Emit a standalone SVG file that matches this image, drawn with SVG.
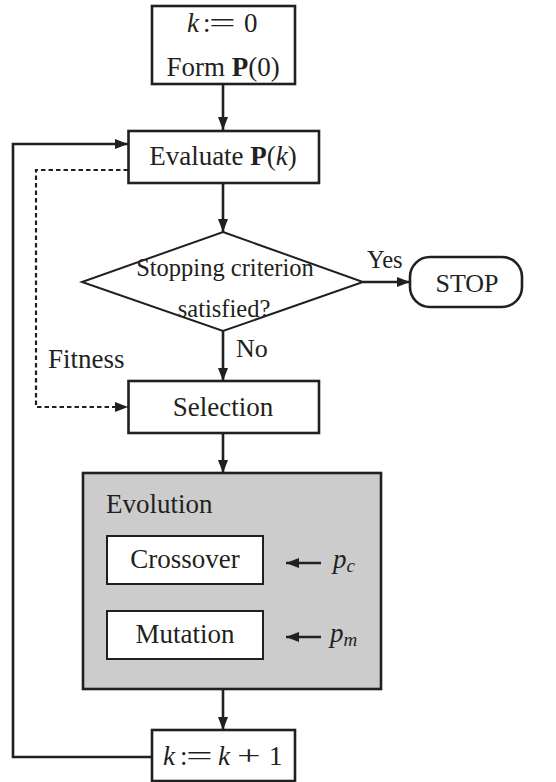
<svg xmlns="http://www.w3.org/2000/svg" width="556" height="782" viewBox="0 0 556 782">
<style>
.box{fill:#fff;stroke:#231f20;stroke-width:2.6}
.inner{fill:#fff;stroke:#231f20;stroke-width:2}
.t{fill:#231f20}
.ln{fill:none;stroke:#231f20;stroke-width:2.6}
.dl{fill:none;stroke:#231f20;stroke-width:2.2;stroke-dasharray:4.5 3}
</style>
<defs>
<marker id="ah" markerUnits="userSpaceOnUse" markerWidth="13" markerHeight="10" refX="13" refY="5" orient="auto">
<path d="M0,0 L13,5 L0,10 z" fill="#231f20"/>
</marker>
</defs>
<rect width="556" height="782" fill="#fff"/>
<g font-family="Liberation Serif, serif" font-size="27">
<g id="init">
<rect class="box" x="152" y="6" width="143" height="78"/>
<text class="t" y="32"><tspan x="187" font-style="italic">k</tspan><tspan x="203">:</tspan><tspan x="244">0</tspan></text>
<text class="t" transform="translate(209,32) scale(1.75,1)" x="0" y="0">=</text>
<text class="t" x="223" y="76" text-anchor="middle">Form <tspan font-weight="bold">P</tspan>(0)</text>
</g>
<g id="evaluate">
<rect class="box" x="128.5" y="131" width="190.5" height="52"/>
<text class="t" x="223" y="165" text-anchor="middle">Evaluate <tspan font-weight="bold">P</tspan>(<tspan font-style="italic">k</tspan>)</text>
</g>
<g id="decision">
<polygon points="223,232 363,282 223,331 82,282" fill="#fff" stroke="#231f20" stroke-width="2"/>
<text class="t" x="225" y="276" text-anchor="middle" font-size="24.5">Stopping criterion</text>
<text class="t" x="224" y="317" text-anchor="middle" font-size="24.5">satisfied?</text>
</g>
<g id="stop">
<rect class="box" x="410" y="257" width="112" height="50" rx="20" ry="20" stroke-width="2"/>
<text class="t" x="467" y="292" text-anchor="middle" font-size="26">STOP</text>
</g>
<g id="selection">
<rect class="box" x="128.5" y="381" width="190.5" height="52"/>
<text class="t" x="223" y="416" text-anchor="middle">Selection</text>
</g>
<g id="evolution">
<rect x="83" y="473" width="298" height="216" fill="#cccccc" stroke="#231f20" stroke-width="2.6"/>
<text class="t" x="106" y="513">Evolution</text>
</g>
<g id="crossover">
<rect class="inner" x="107" y="536" width="156" height="48"/>
<text class="t" x="185" y="568" text-anchor="middle">Crossover</text>
</g>
<g id="mutation">
<rect class="inner" x="107" y="611" width="156" height="48"/>
<text class="t" x="185" y="643" text-anchor="middle">Mutation</text>
</g>
<g id="pc">
<text class="t" x="333" y="568" font-style="italic">p<tspan font-size="19" dy="4">c</tspan></text>
</g>
<g id="pm">
<text class="t" x="330" y="642" font-style="italic">p<tspan font-size="19" dy="4">m</tspan></text>
</g>
<g id="increment">
<rect class="box" x="152" y="730" width="143" height="51"/>
<text class="t" y="765"><tspan x="163" font-style="italic">k</tspan><tspan x="180">:</tspan><tspan x="218" font-style="italic">k</tspan><tspan x="269">1</tspan></text>
<text class="t" transform="translate(186,765) scale(1.75,1)" x="0" y="0">=</text>
<text class="t" transform="translate(237,765) scale(1.55,1)" x="0" y="0">+</text>
</g>
<g id="connectors">
<line class="ln" x1="223" y1="84" x2="223" y2="130" marker-end="url(#ah)"/>
<line class="ln" x1="223" y1="183" x2="223" y2="232" marker-end="url(#ah)"/>
<line class="ln" x1="363" y1="282" x2="410" y2="282" marker-end="url(#ah)"/>
<line class="ln" x1="223" y1="331" x2="223" y2="381" marker-end="url(#ah)"/>
<line class="ln" x1="223" y1="433" x2="223" y2="473" marker-end="url(#ah)"/>
<line class="ln" x1="223" y1="689" x2="223" y2="730" marker-end="url(#ah)"/>
<polyline class="ln" points="152,757 13,757 13,144 128,144" marker-end="url(#ah)"/>
<polyline class="dl" points="128,170 36,170 36,407 128,407" marker-end="url(#ah)"/>
<line class="ln" x1="321" y1="563" x2="286" y2="563" marker-end="url(#ah)"/>
<line class="ln" x1="321" y1="637" x2="286" y2="637" marker-end="url(#ah)"/>
<text class="t" x="367" y="268" font-size="24.5">Yes</text>
<text class="t" x="236" y="357" font-size="26">No</text>
<text class="t" x="48" y="368">Fitness</text>
</g>
</g>
</svg>
